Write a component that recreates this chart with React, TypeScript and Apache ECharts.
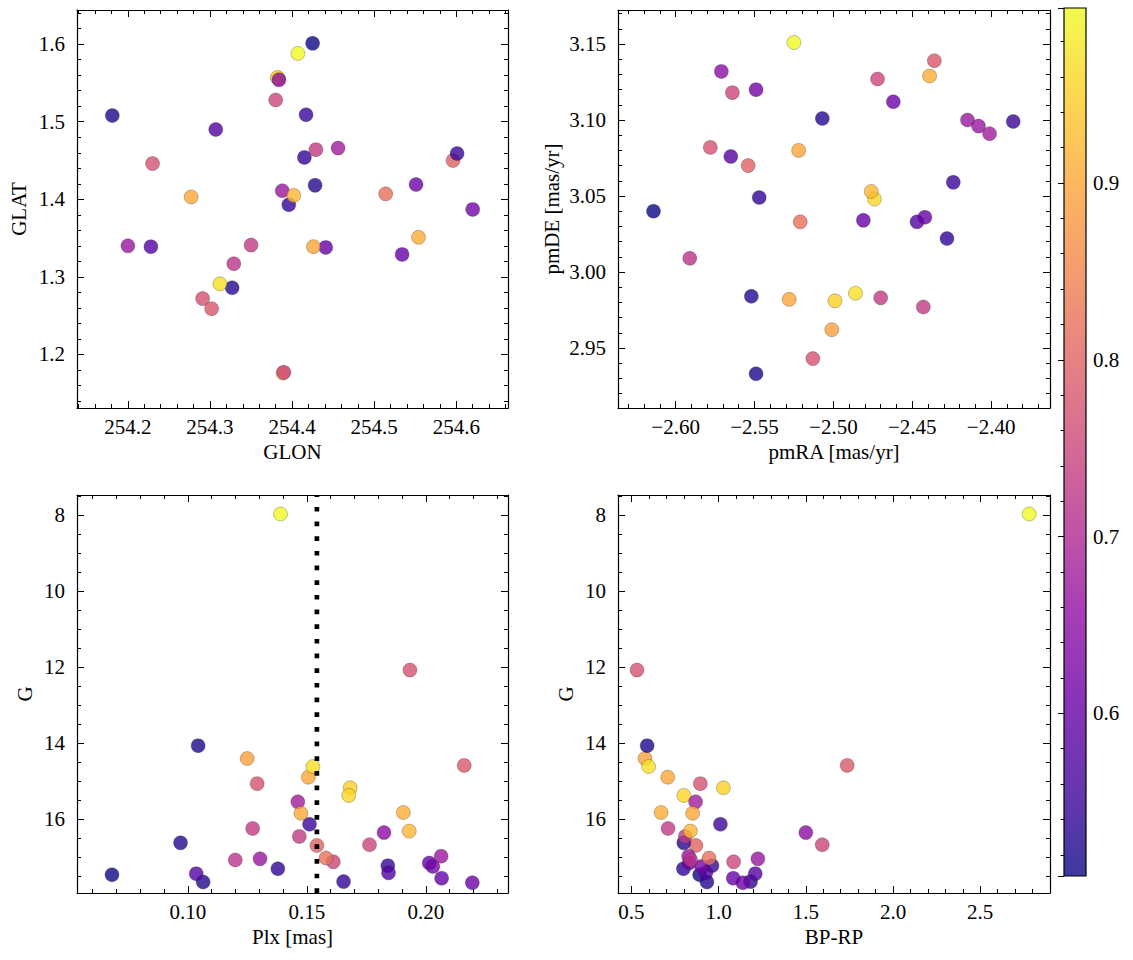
import React, { useEffect, useRef } from 'react';
import * as echarts from 'echarts';

// ---- per-star data (same order in every array) ----
const glon = [254.383, 254.382, 254.389, 254.596, 254.425, 254.181, 254.327, 254.428, 254.415, 254.396, 254.601, 254.417, 254.307, 254.228, 254.441, 254.534, 254.551, 254.62, 254.384, 254.2, 254.388, 254.456, 254.329, 254.35, 254.429, 254.39, 254.38, 254.291, 254.23, 254.302, 254.514, 254.277, 254.426, 254.554, 254.402, 254.312, 254.407];
const glat = [1.556, 1.557, 1.176, 1.45, 1.601, 1.508, 1.286, 1.418, 1.454, 1.393, 1.459, 1.509, 1.49, 1.339, 1.338, 1.329, 1.419, 1.387, 1.554, 1.34, 1.411, 1.466, 1.317, 1.341, 1.464, 1.177, 1.528, 1.272, 1.446, 1.259, 1.407, 1.403, 1.339, 1.351, 1.405, 1.291, 1.588];
const pmra = [-2.499, -2.474, -2.501, -2.554, -2.614, -2.549, -2.552, -2.507, -2.547, -2.428, -2.386, -2.424, -2.565, -2.447, -2.442, -2.481, -2.462, -2.549, -2.571, -2.415, -2.408, -2.401, -2.591, -2.47, -2.443, -2.472, -2.564, -2.513, -2.578, -2.436, -2.521, -2.528, -2.522, -2.439, -2.476, -2.486, -2.525];
const pmde = [2.981, 3.048, 2.962, 3.07, 3.04, 2.933, 2.984, 3.101, 3.049, 3.022, 3.099, 3.059, 3.076, 3.033, 3.036, 3.034, 3.112, 3.12, 3.132, 3.1, 3.096, 3.091, 3.009, 2.983, 2.977, 3.127, 3.118, 2.943, 3.082, 3.139, 3.033, 2.982, 3.08, 3.129, 3.053, 2.986, 3.151];
const plx = [0.1682, 0.1676, 0.1249, 0.1542, 0.0681, 0.1043, 0.0969, 0.1064, 0.1378, 0.1654, 0.1511, 0.184, 0.1035, 0.1843, 0.2014, 0.2066, 0.2195, 0.2029, 0.1824, 0.1303, 0.2064, 0.1462, 0.1199, 0.1272, 0.1468, 0.1611, 0.1763, 0.1291, 0.1933, 0.2161, 0.158, 0.1475, 0.1506, 0.1905, 0.193, 0.1525, 0.1389];
const gmag = [15.18, 15.38, 14.41, 16.7, 17.47, 14.07, 16.63, 17.66, 17.31, 17.65, 16.14, 17.23, 17.44, 17.42, 17.16, 17.56, 17.68, 17.25, 16.36, 17.05, 16.98, 15.55, 17.08, 16.25, 16.46, 17.13, 16.68, 15.07, 12.08, 14.59, 17.03, 15.85, 14.9, 15.83, 16.32, 14.62, 7.97];
const bprp = [1.027, 0.8, 0.578, 0.87, 0.891, 0.59, 0.8, 0.933, 0.798, 1.183, 1.01, 0.962, 1.21, 0.927, 0.832, 1.084, 1.139, 0.903, 1.5, 1.225, 0.828, 0.868, 0.84, 0.71, 0.809, 1.086, 1.594, 0.895, 0.532, 1.737, 0.945, 0.851, 0.708, 0.67, 0.838, 0.599, 2.781];
const prob = [0.95, 0.96, 0.89, 0.8, 0.508, 0.52, 0.53, 0.53, 0.54, 0.54, 0.55, 0.55, 0.58, 0.58, 0.6, 0.6, 0.61, 0.62, 0.65, 0.67, 0.67, 0.68, 0.72, 0.73, 0.73, 0.75, 0.75, 0.77, 0.77, 0.78, 0.82, 0.9, 0.9, 0.91, 0.92, 0.97, 0.999];

// reference parallax (vertical dotted line)
const plxLine = 0.1542;

// axis ranges
const glonRange = [254.138, 254.663];
const glatRange = [1.131, 1.644];
const pmraRange = [-2.6365, -2.3627];
const pmdeRange = [2.9105, 3.1724];
const plxRange = [0.0534, 0.2345];
const gRange = [7.47, 17.95];
const bprpRange = [0.423, 2.9];

const PLASMA = ['#0d0887', '#41049d', '#6a00a8', '#8f0da4', '#b12a90', '#cc4778', '#e16462', '#f2844b', '#fca636', '#fcce25', '#f0f921'];
const FONT = '"Liberation Serif", "DejaVu Serif", serif';
const FS = 21;

function fmt(step: number, digits: number) {
  return (v: number) => {
    const k = v / step;
    if (Math.abs(k - Math.round(k)) > 1e-6) return '';
    const s = Math.abs(v).toFixed(digits);
    return v < -1e-12 ? '\u2212' + s : s;
  };
}

const lineStyle = { color: '#000', width: 1.2 };
const tickStyle = { color: '#000', width: 1 };

function xAxes(gi: number, r: number[], name: string, split: number, minor: number, formatter: any) {
  const common = {
    type: 'value', gridIndex: gi, min: r[0], max: r[1], splitNumber: split,
    axisLine: { show: true, onZero: false, lineStyle },
    axisTick: { show: true, inside: true, length: 7, lineStyle: tickStyle },
    minorTick: { show: true, splitNumber: minor, length: 4, lineStyle: tickStyle },
    splitLine: { show: false }, minorSplitLine: { show: false },
  };
  return [
    { ...common, position: 'bottom', name, nameLocation: 'middle', nameGap: 33,
      nameTextStyle: { fontFamily: FONT, fontSize: FS, color: '#000' },
      axisLabel: { show: true, margin: 8, formatter, fontFamily: FONT, fontSize: FS, color: '#000' } },
    { ...common, position: 'top', axisLabel: { show: false } },
  ];
}

function yAxes(gi: number, r: number[], name: string, split: number, minor: number, formatter: any, gap: number, inverse = false) {
  const common = {
    type: 'value', gridIndex: gi, min: r[0], max: r[1], splitNumber: split, inverse,
    axisLine: { show: true, onZero: false, lineStyle },
    axisTick: { show: true, inside: true, length: 7, lineStyle: tickStyle },
    minorTick: { show: true, splitNumber: minor, length: 4, lineStyle: tickStyle },
    splitLine: { show: false }, minorSplitLine: { show: false },
  };
  return [
    { ...common, position: 'left', name, nameLocation: 'middle', nameGap: gap, nameRotate: 90,
      nameTextStyle: { fontFamily: FONT, fontSize: FS, color: '#000' },
      axisLabel: { show: true, margin: 12, formatter, fontFamily: FONT, fontSize: FS, color: '#000' } },
    { ...common, position: 'right', axisLabel: { show: false } },
  ];
}

export default function App() {
  const ref = useRef<HTMLDivElement>(null);
  useEffect(() => {
    if (!ref.current) return;
    const chart = echarts.init(ref.current, undefined, { renderer: 'svg' });
    const idx = prob.map((_, i) => i);
    const pMin = Math.min(...prob);
    const pMax = Math.max(...prob);
    const scatterBase = {
      type: 'scatter', symbolSize: 14, silent: true,
      itemStyle: { opacity: 0.8, borderColor: 'rgba(40,40,40,0.7)', borderWidth: 0.5 },
    };
    const stops = PLASMA.map((c, i) => ({ offset: 1 - i / (PLASMA.length - 1), color: c })).reverse();

    const option: any = {
      animation: false,
      backgroundColor: '#fff',
      grid: [
        { left: 77, top: 10, width: 431, height: 398 },
        { left: 618, top: 10, width: 432, height: 398 },
        { left: 77, top: 495, width: 431, height: 398 },
        { left: 618, top: 495, width: 432, height: 398 },
        { left: 1064, top: 8, width: 22, height: 868 },
      ],
      xAxis: [
        ...xAxes(0, glonRange, 'GLON', 5, 5, fmt(0.1, 1)),
        ...xAxes(1, pmraRange, 'pmRA [mas/yr]', 5, 5, fmt(0.05, 2)),
        ...xAxes(2, plxRange, 'Plx [mas]', 4, 5, fmt(0.05, 2)),
        ...xAxes(3, bprpRange, 'BP-RP', 5, 5, fmt(0.5, 1)),
        { type: 'value', gridIndex: 4, min: 0, max: 1, show: false },
      ],
      yAxis: [
        ...yAxes(0, glatRange, 'GLAT', 5, 5, fmt(0.1, 1), 48),
        ...yAxes(1, pmdeRange, 'pmDE [mas/yr]', 5, 5, fmt(0.05, 2), 56),
        ...yAxes(2, gRange, 'G', 5, 4, fmt(2, 0), 42, true),
        ...yAxes(3, gRange, 'G', 5, 4, fmt(2, 0), 42, true),
        {
          type: 'value', gridIndex: 4, min: pMin, max: pMax, splitNumber: 5, position: 'right', z: 10,
          axisLine: { show: false },
          axisTick: { show: true, inside: true, length: 6, lineStyle: tickStyle },
          minorTick: { show: true, splitNumber: 5, length: 3.5, lineStyle: tickStyle },
          splitLine: { show: false },
          axisLabel: { show: true, margin: 7, formatter: fmt(0.1, 1), fontFamily: FONT, fontSize: FS, color: '#000' },
        },
      ],
      visualMap: {
        type: 'continuous', show: false, dimension: 2, min: pMin, max: pMax,
        seriesIndex: [0, 1, 2, 3], inRange: { color: PLASMA },
      },
      series: [
        { ...scatterBase, xAxisIndex: 0, yAxisIndex: 0, data: idx.map(i => [glon[i], glat[i], prob[i]]) },
        { ...scatterBase, xAxisIndex: 2, yAxisIndex: 2, data: idx.map(i => [pmra[i], pmde[i], prob[i]]) },
        { ...scatterBase, xAxisIndex: 4, yAxisIndex: 4, data: idx.map(i => [plx[i], gmag[i], prob[i]]) },
        { ...scatterBase, xAxisIndex: 6, yAxisIndex: 6, data: idx.map(i => [bprp[i], gmag[i], prob[i]]) },
        {
          type: 'line', xAxisIndex: 4, yAxisIndex: 4, silent: true, symbol: 'none', z: 3,
          lineStyle: { color: '#000', width: 4.7, type: [4.7, 9.97], cap: 'butt' },
          data: [[plxLine, gRange[1]], [plxLine, gRange[0]]],
        },
        {
          type: 'custom', xAxisIndex: 8, yAxisIndex: 8, z: 1, silent: true,
          data: [[0, pMin, pMax]],
          encode: { x: 0, y: [1, 2] },
          renderItem: (params: any, api: any) => {
            const cs = params.coordSys;
            const top = api.coord([0, api.value(2)])[1];
            const bot = api.coord([0, api.value(1)])[1];
            return {
              type: 'group',
              children: [
                { type: 'rect', shape: { x: cs.x, y: top, width: cs.width, height: bot - top },
                  style: { fill: new echarts.graphic.LinearGradient(0, 0, 0, 1, stops), opacity: 0.8 } },
                { type: 'rect', shape: { x: cs.x, y: top, width: cs.width, height: bot - top },
                  style: { fill: 'none', stroke: '#000', lineWidth: 1.2 } },
              ],
            };
          },
        },
      ],
    };
    chart.setOption(option);
    return () => chart.dispose();
  }, []);
  return <div ref={ref} style={{ position: 'absolute', left: 0, top: 0, width: 1133, height: 960 }} />;
}
